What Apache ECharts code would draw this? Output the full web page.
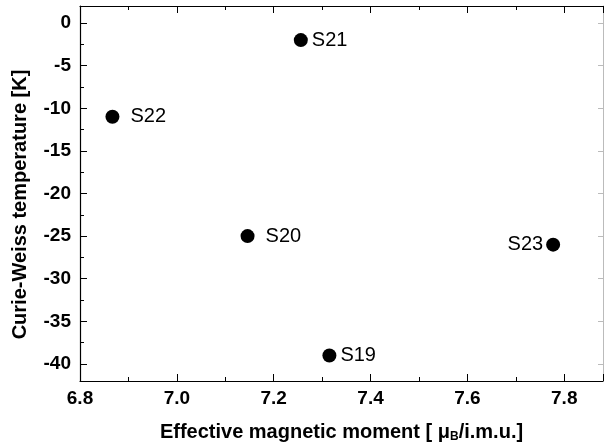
<!DOCTYPE html>
<html>
<head>
<meta charset="utf-8">
<script src="https://cdn.jsdelivr.net/npm/echarts@6/dist/echarts.min.js"></script>
<style>
  html, body { margin: 0; padding: 0; background: #fff; }
  #chart { width: 606px; height: 448px; }
</style>
</head>
<body>
<div id="chart"></div>
<script>
// sample data
const sampleNames = ['S19', 'S20', 'S21', 'S22', 'S23']
const momentValues = [7.315, 7.146, 7.256, 6.867, 7.777]
const curieWeissValues = [-39, -25, -2, -11, -26]
const labelSide = ['right', 'right', 'right', 'right', 'left']
const labelGap = [4, 11, 4, 11, 3]

const yMajorTicks = [-40, -35, -30, -25, -20, -15, -10, -5, 0]
const yMinorTicks = [-37.5, -32.5, -27.5, -22.5, -17.5, -12.5, -7.5, -2.5]

const xMin = 6.8, xMax = 7.88
const yMin = -42, yMax = 2

let chart = echarts.init(document.getElementById('chart'))

const fontName = 'Liberation Sans, Arial, sans-serif'
const tickFont = {
  color: '#000',
  fontFamily: fontName,
  fontWeight: 'bold',
  fontSize: 19
}

// common axis look: black line, inward ticks
function baseAxis (extra) {
  return Object.assign({
    type: 'value',
    axisLine: { show: true, onZero: false, lineStyle: { color: '#000', width: 1.2 } },
    axisTick: { show: true, inside: true, length: 7, lineStyle: { color: '#000', width: 1 } },
    minorTick: { show: false },
    splitLine: { show: false },
    axisLabel: { show: false }
  }, extra)
}

chart.setOption({
  animation: false,
  backgroundColor: '#fff',
  grid: { left: 80, right: 1, top: 6, bottom: 65 },
  xAxis: [
    baseAxis({
      position: 'bottom',
      min: xMin,
      max: xMax,
      interval: 0.2,
      minorTick: { show: true, splitNumber: 2, length: 4, lineStyle: { color: '#000', width: 1 } },
      axisLabel: Object.assign({
        show: true,
        margin: 8,
        formatter: v => v <= 7.81 ? v.toFixed(1) : ''
      }, tickFont),
      name: '{n|Effective magnetic moment [ }{mu|μ}{sub|B}{n|/i.m.u.]}',
      nameLocation: 'middle',
      nameGap: 40,
      nameTextStyle: {
        rich: {
          n: { fontFamily: fontName, fontWeight: 'bold', fontSize: 20, color: '#000' },
          mu: { fontFamily: fontName, fontWeight: 'bold', fontSize: 20, color: '#000' },
          sub: { fontFamily: fontName, fontWeight: 'bold', fontSize: 12, color: '#000', verticalAlign: 'bottom', padding: [10, 0, 0, 0] }
        }
      }
    }),
    baseAxis({
      position: 'top',
      min: xMin,
      max: xMax,
      interval: 0.2,
      minorTick: { show: true, splitNumber: 2, length: 4, lineStyle: { color: '#000', width: 1 } }
    })
  ],
  yAxis: [
    baseAxis({
      position: 'left',
      min: yMin,
      max: yMax,
      axisTick: { show: true, inside: true, length: 7, customValues: yMajorTicks, lineStyle: { color: '#000', width: 1 } },
      axisLabel: Object.assign({
        show: true,
        margin: 9,
        customValues: yMajorTicks,
        formatter: v => String(v)
      }, tickFont),
      name: 'Curie-Weiss temperature [K]',
      nameLocation: 'middle',
      nameGap: 50,
      nameTextStyle: {
        fontFamily: fontName,
        fontWeight: 'bold',
        fontSize: 20,
        color: '#000',
        padding: [0, 22, 0, 0]
      }
    }),
    // minor ticks on the left axis
    baseAxis({
      position: 'left',
      min: yMin,
      max: yMax,
      axisLine: { show: false, onZero: false },
      axisTick: { show: true, inside: true, length: 4, customValues: yMinorTicks, lineStyle: { color: '#000', width: 1 } }
    }),
    baseAxis({
      position: 'right',
      min: yMin,
      max: yMax,
      axisLine: { show: true, onZero: false, lineStyle: { color: '#bbb', width: 1 } },
      axisTick: { show: true, inside: true, length: 5, customValues: yMajorTicks, lineStyle: { color: '#bbb' } }
    })
  ],
  series: [
    {
      type: 'scatter',
      symbol: 'circle',
      symbolSize: 14,
      itemStyle: { color: '#000', opacity: 1 },
      data: sampleNames.map((name, i) => ({
        name: name,
        value: [momentValues[i], curieWeissValues[i]],
        label: {
          show: true,
          position: labelSide[i],
          distance: labelGap[i],
          formatter: '{b}',
          color: '#000',
          fontFamily: fontName,
          fontSize: 20
        }
      }))
    }
  ]
})
</script>
</body>
</html>
